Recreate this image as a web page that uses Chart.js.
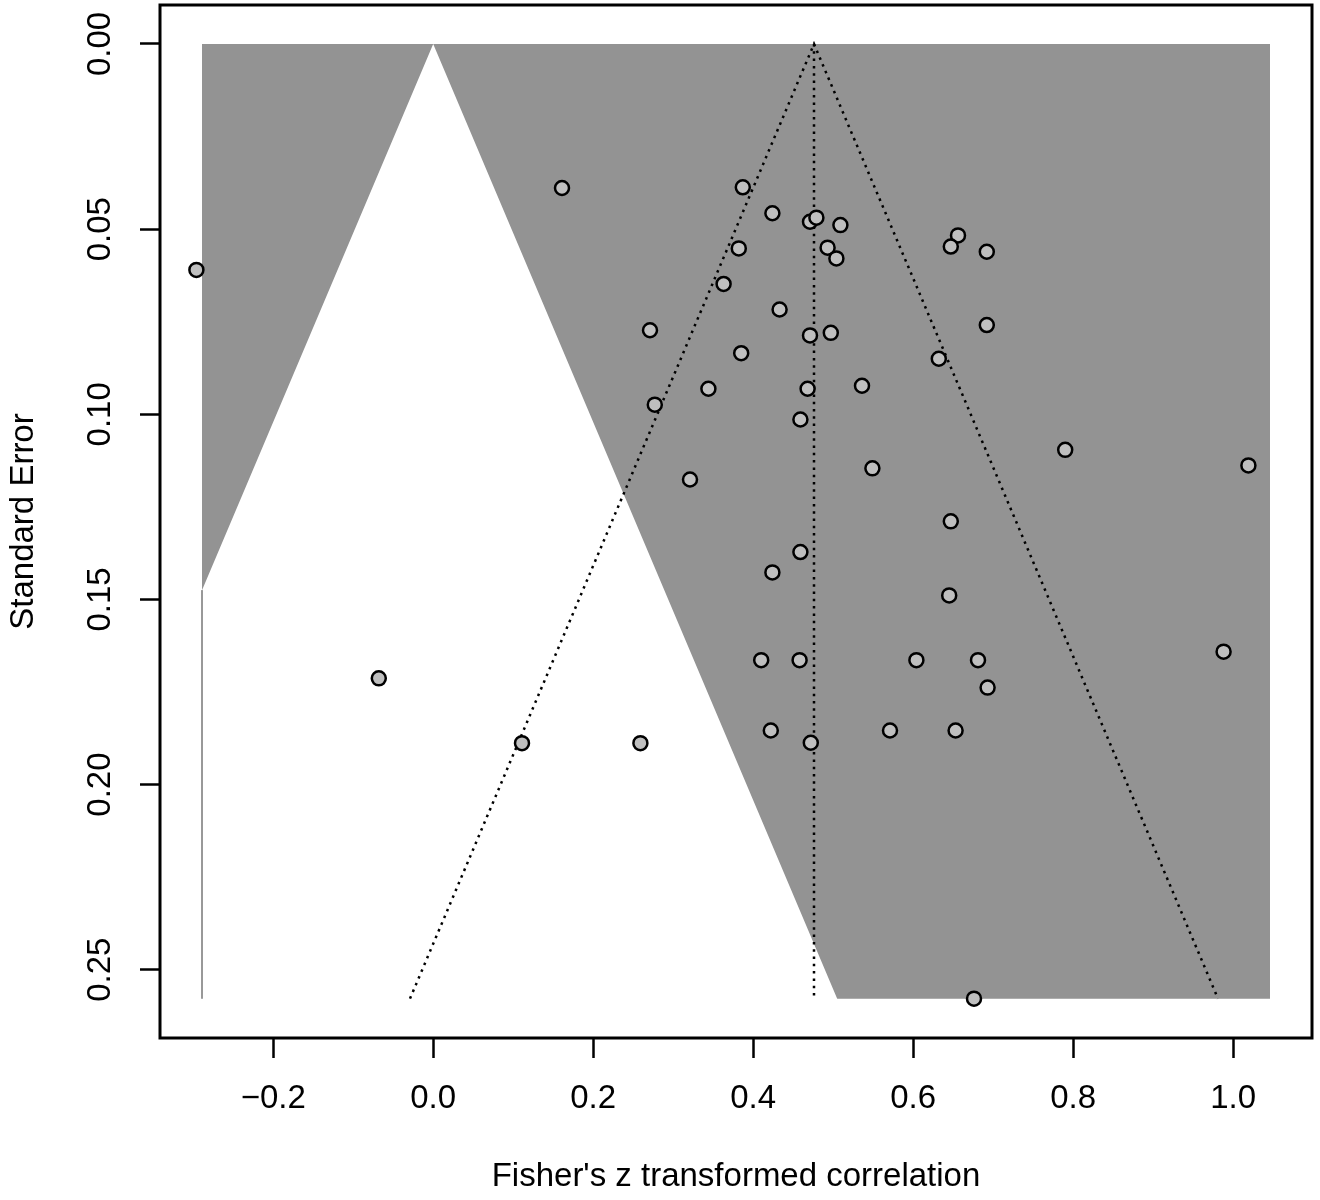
<!DOCTYPE html>
<html>
<head>
<meta charset="utf-8">
<title>Funnel plot</title>
<script src="https://cdn.jsdelivr.net/npm/chart.js@4/dist/chart.umd.min.js"></script>
<style>
  html, body { margin: 0; padding: 0; background: #fff; }
  #wrap { width: 1320px; height: 1200px; }
</style>
</head>
<body>
<div id="wrap"><canvas id="funnelChart" width="1320" height="1200"></canvas></div>
<script>
// study estimates (Fisher's z) and their standard errors
const effectZ = [
  -0.296, -0.068, 0.111, 0.259, 0.161, 0.387, 0.424, 0.471, 0.479, 0.509,
  0.382, 0.493, 0.504, 0.363, 0.433, 0.271, 0.471, 0.497, 0.385, 0.344,
  0.468, 0.536, 0.277, 0.459, 0.549, 0.321, 0.647, 0.459, 0.424, 0.645,
  0.410, 0.458, 0.604, 0.681, 0.693, 0.422, 0.472, 0.571, 0.653, 0.656,
  0.647, 0.692, 0.692, 0.632, 0.790, 1.019, 0.988, 0.676
];
const stdErr = [
  0.0610, 0.1713, 0.1888, 0.1888, 0.0389, 0.0387, 0.0457, 0.0480, 0.0469, 0.0489,
  0.0552, 0.0550, 0.0579, 0.0648, 0.0717, 0.0773, 0.0787, 0.0780, 0.0835, 0.0931,
  0.0931, 0.0923, 0.0974, 0.1014, 0.1146, 0.1176, 0.1289, 0.1372, 0.1427, 0.1489,
  0.1664, 0.1664, 0.1664, 0.1664, 0.1738, 0.1854, 0.1887, 0.1854, 0.1854, 0.0517,
  0.0547, 0.0561, 0.0759, 0.0850, 0.1096, 0.1138, 0.1641, 0.2578
];

// axis ticks
const xTicks = [-0.2, 0, 0.2, 0.4, 0.6, 0.8, 1.0];
const xTickLabels = ['\u22120.2', '0.0', '0.2', '0.4', '0.6', '0.8', '1.0'];
const yTicks = [0, 0.05, 0.10, 0.15, 0.20, 0.25];
const yTickLabels = ['0.00', '0.05', '0.10', '0.15', '0.20', '0.25'];

// contour shading: grey = p < .05, white wedge = not significant
const shadeX = [-0.289, 1.046, 1.046, -0.289];
const shadeY = [0, 0, 0.2578, 0.2578];
const wedgeX = [0, 0.505, 0.505, -0.289, -0.289];
const wedgeY = [0, 0.2578, 0.2600, 0.2600, 0.1475];
const edgeX = [-0.289, -0.289];
const edgeY = [0.1475, 0.2578];

// pseudo confidence funnel round the summary estimate
const funnelX = [-0.029, 0.476, 0.981];
const funnelY = [0.2578, 0, 0.2578];
const centerX = [0.476, 0.476];
const centerY = [0, 0.2578];

function toPoints(xs, ys) {
  return xs.map((x, i) => ({ x: x, y: ys[i] }));
}

Chart.defaults.font.family = "'Liberation Sans', Arial, Helvetica, sans-serif";
Chart.defaults.font.size = 33;
Chart.defaults.color = '#000';

// box round the plot region, like R's box()
const frame = {
  id: 'frame',
  afterDraw(chart) {
    const { ctx, chartArea: a } = chart;
    ctx.save();
    ctx.lineWidth = 3;
    ctx.strokeStyle = '#000';
    ctx.strokeRect(a.left, a.top, a.right - a.left, a.bottom - a.top);
    ctx.restore();
  }
};

const polygon = (xs, ys, color, order) => ({
  type: 'line',
  data: toPoints(xs, ys),
  fill: 'shape',
  backgroundColor: color,
  borderWidth: 0,
  pointRadius: 0,
  tension: 0,
  order: order
});

const dotted = (xs, ys, order) => ({
  type: 'line',
  data: toPoints(xs, ys),
  fill: false,
  borderColor: '#000',
  borderWidth: 2.5,
  borderDash: [2.5, 4.8],
  pointRadius: 0,
  tension: 0,
  order: order
});

const ctx = document.getElementById('funnelChart').getContext('2d');
const funnelChart = new Chart(ctx, {
  type: 'scatter',
  data: {
    datasets: [
      polygon(shadeX, shadeY, '#939393', 6),
      polygon(wedgeX, wedgeY, '#ffffff', 5),
      {
        type: 'line',
        data: toPoints(edgeX, edgeY),
        borderColor: '#8a8a8a',
        borderWidth: 1,
        pointRadius: 0,
        fill: false,
        order: 4
      },
      dotted(funnelX, funnelY, 3),
      dotted(centerX, centerY, 2),
      {
        type: 'scatter',
        data: toPoints(effectZ, stdErr),
        pointRadius: 7,
        hoverRadius: 7,
        borderWidth: 2.5,
        borderColor: '#000',
        backgroundColor: '#bfbfbf',
        order: 1
      }
    ]
  },
  options: {
    responsive: false,
    devicePixelRatio: 1,
    animation: false,
    events: [],
    layout: { autoPadding: false, padding: { top: 5, right: 8, bottom: 0, left: 0 } },
    plugins: {
      legend: { display: false },
      tooltip: { enabled: false }
    },
    scales: {
      x: {
        type: 'linear',
        min: -0.3415,
        max: 1.0985,
        afterBuildTicks: (scale) => { scale.ticks = xTicks.map(v => ({ value: v })); },
        afterFit: (scale) => { scale.height = 162; scale.paddingLeft = 0; scale.paddingRight = 0; },
        border: { display: false },
        grid: { drawOnChartArea: false, drawTicks: true, tickLength: 20, tickWidth: 2.5, tickColor: '#000' },
        ticks: {
          autoSkip: false,
          maxRotation: 0,
          padding: 21,
          callback: (value, index) => xTickLabels[index]
        },
        title: {
          display: true,
          text: "Fisher's z transformed correlation",
          padding: { top: 0, bottom: 3 }
        }
      },
      y: {
        type: 'linear',
        reverse: true,
        min: -0.01053,
        max: 0.26843,
        afterBuildTicks: (scale) => { scale.ticks = yTicks.map(v => ({ value: v })); },
        afterFit: (scale) => { scale.width = 160; scale.paddingTop = 0; scale.paddingBottom = 0; },
        border: { display: false },
        grid: { drawOnChartArea: false, drawTicks: true, tickLength: 20, tickWidth: 2.5, tickColor: '#000' },
        ticks: {
          autoSkip: false,
          minRotation: 90,
          maxRotation: 90,
          crossAlign: 'center',
          padding: 7,
          callback: (value, index) => yTickLabels[index]
        },
        title: {
          display: true,
          text: 'Standard Error',
          padding: { top: 4, bottom: 0 }
        }
      }
    }
  },
  plugins: [frame]
});
</script>
</body>
</html>
